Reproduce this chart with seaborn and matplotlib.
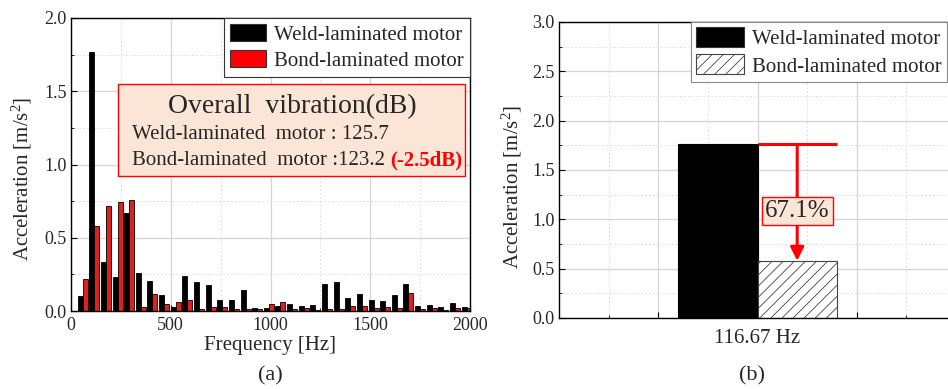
import numpy as np
import pandas as pd
import matplotlib
matplotlib.use("Agg")
import matplotlib.pyplot as plt
from matplotlib.patches import Patch, Rectangle
from matplotlib.ticker import MultipleLocator
import seaborn as sns

# ---------------- data ----------------
freqs = [58.33, 116.67, 175.0, 233.33, 291.67, 350.0, 408.33, 466.67, 525.0, 583.33,
         641.67, 700.0, 758.33, 816.67, 875.0, 933.33, 991.67, 1050.0, 1108.33, 1166.67,
         1225.0, 1283.33, 1341.67, 1400.0, 1458.33, 1516.67, 1575.0, 1633.33, 1691.67,
         1750.0, 1808.33, 1866.67, 1925.0, 1983.33]
weld = [0.105, 1.770, 0.337, 0.234, 0.667, 0.257, 0.204, 0.108, 0.030, 0.241,
        0.197, 0.179, 0.073, 0.078, 0.140, 0.023, 0.023, 0.032, 0.048, 0.034,
        0.041, 0.186, 0.197, 0.089, 0.117, 0.078, 0.069, 0.112, 0.181,
        0.032, 0.041, 0.028, 0.055, 0.025]
bond = [0.218, 0.578, 0.718, 0.745, 0.755, 0.028, 0.117, 0.048, 0.060, 0.076,
        0.016, 0.028, 0.030, 0.011, 0.016, 0.011, 0.048, 0.060, 0.014, 0.018,
        0.005, 0.014, 0.014, 0.032, 0.037, 0.023, 0.028, 0.023, 0.122,
        0.011, 0.021, 0.009, 0.021, 0.023]
series = ["Weld-laminated motor", "Bond-laminated motor"]

peak_label = "116.67 Hz"
peak_values = [1.76, 0.58]
reduction_text = "67.1%"
reduction_label_y = 1.08

overall_title = "Overall  vibration(dB)"
overall_line1 = "Weld-laminated  motor : 125.7"
overall_line2 = "Bond-laminated  motor :123.2"
overall_delta = "(-2.5dB)"

# ---------------- style ----------------
sns.set_style("ticks")
plt.rcParams["font.family"] = ["Liberation Serif", "DejaVu Serif"]
plt.rcParams["mathtext.fontset"] = "custom"
plt.rcParams["mathtext.rm"] = "Liberation Serif"
plt.rcParams["mathtext.default"] = "regular"
plt.rcParams["hatch.linewidth"] = 0.6
plt.rcParams["hatch.color"] = "#333333"

PEACH = "#FBE5D6"
fig = plt.figure(figsize=(9.48, 3.89), dpi=100)
W, H = 948, 389

def px_axes(l, t, r, b):
    return fig.add_axes([l / W, 1 - b / H, (r - l) / W, (b - t) / H])

def style_axes(ax):
    ax.set_axisbelow(True)
    ax.grid(which="major", color="#d4d4d4", lw=0.9, ls="-")
    ax.grid(which="minor", color="#e2e2e2", lw=0.7, ls=(0, (2, 2)))
    for s in ax.spines.values():
        s.set_color("black")
        s.set_linewidth(1.0)
    ax.tick_params(which="both", direction="in", labelsize=13, color="black")
    ax.tick_params(which="major", length=4)
    ax.tick_params(which="minor", length=2)

# ---------------- panel (a) ----------------
ax1 = px_axes(71, 18, 470, 311)
df = pd.DataFrame({
    "freq": freqs * 2,
    "acc": weld + bond,
    "motor": [series[0]] * len(freqs) + [series[1]] * len(freqs),
})
sns.barplot(data=df, x="freq", y="acc", hue="motor", hue_order=series,
            native_scale=True, palette=["black", "#ff0000"], width=0.86,
            edgecolor="black", linewidth=0.6, ax=ax1, legend=False)
ax1.set_xlim(0, 2000)
ax1.set_ylim(0, 2.0)
ax1.xaxis.set_major_locator(MultipleLocator(500))
ax1.xaxis.set_minor_locator(MultipleLocator(250))
ax1.yaxis.set_major_locator(MultipleLocator(0.5))
ax1.yaxis.set_minor_locator(MultipleLocator(0.25))
ax1.yaxis.set_major_formatter(matplotlib.ticker.FormatStrFormatter("%.1f"))
style_axes(ax1)
ax1.tick_params(axis="x", pad=4)
ax1.tick_params(axis="y", pad=3)
ax1.set_xlabel("Frequency [Hz]", fontsize=15)
ax1.set_ylabel("Acceleration [m/s$^2$]", fontsize=15)
ax1.xaxis.set_label_coords(0.5, -0.118)
ax1.xaxis.label.set_verticalalignment("center")
ax1.yaxis.set_label_coords(-0.123, 0.45)
ax1.yaxis.label.set_verticalalignment("center")

h1 = [Patch(facecolor="black", edgecolor="#333333", lw=0.8),
      Patch(facecolor="#ff0000", edgecolor="#333333", lw=0.8)]
leg1 = ax1.legend(h1, series, loc="upper right", borderaxespad=0, fontsize=15,
                  frameon=True, fancybox=False, edgecolor="#333333",
                  handlelength=1.7, handleheight=0.85, handletextpad=0.4,
                  borderpad=0.3, labelspacing=0.25, framealpha=1)
leg1.get_frame().set_linewidth(0.8)

ax1.add_patch(Rectangle((0.118, 0.461), 0.869, 0.314, transform=ax1.transAxes,
                        facecolor=PEACH, edgecolor="#ff0000", lw=1.0, zorder=5))
ax1.text(0.554, 0.696, overall_title, transform=ax1.transAxes, fontsize=20,
         ha="center", va="center", zorder=6)
ax1.text(0.153, 0.601, overall_line1, transform=ax1.transAxes, fontsize=15,
         ha="left", va="center", zorder=6)
ax1.text(0.153, 0.512, overall_line2, transform=ax1.transAxes, fontsize=15,
         ha="left", va="center", zorder=6)
ax1.text(0.80, 0.512, overall_delta, transform=ax1.transAxes, fontsize=15,
         ha="left", va="center", color="#ff0000", fontweight="bold", zorder=6)

# ---------------- panel (b) ----------------
ax2 = px_axes(559, 22, 956, 318)
df2 = pd.DataFrame({"freq": [peak_label] * 2, "acc": peak_values, "motor": series})
sns.barplot(data=df2, x="freq", y="acc", hue="motor", hue_order=series,
            palette=["black", "white"], width=0.8, ax=ax2, legend=False,
            edgecolor="black", linewidth=0.8)
bars = [p for p in ax2.patches]
bars[0].set_facecolor("black"); bars[0].set_edgecolor("black")
bars[1].set_facecolor("white"); bars[1].set_edgecolor("#444444")
bars[1].set_hatch("///")
ax2.set_xlim(-1, 1)
ax2.set_ylim(0, 3.0)
ax2.set_xticks([-0.5, 0, 0.5])
ax2.set_xticklabels(["", peak_label, ""], fontsize=15)
ax2.set_xticks([-0.75, -0.25, 0.25, 0.75], minor=True)
ax2.yaxis.set_major_locator(MultipleLocator(0.5))
ax2.yaxis.set_minor_locator(MultipleLocator(0.25))
ax2.yaxis.set_major_formatter(matplotlib.ticker.FormatStrFormatter("%.1f"))
style_axes(ax2)
ax2.tick_params(axis="x", labelsize=15, pad=8)
ax2.tick_params(axis="y", pad=3)
ax2.spines["right"].set_visible(False)
ax2.set_xlabel("")
ax2.set_ylabel("Acceleration [m/s$^2$]", fontsize=15)
ax2.yaxis.set_label_coords(-0.118, 0.444)
ax2.yaxis.label.set_verticalalignment("center")

b0 = bars[0]; b1 = bars[1]
top = b0.get_height()
x_left = b1.get_x(); x_right = b1.get_x() + b1.get_width()
x_mid = b1.get_x() + b1.get_width() / 2
ax2.plot([x_left, x_right], [top, top], color="#ff0000", lw=2.2,
         solid_capstyle="butt", zorder=4)
ax2.annotate("", xy=(x_mid, b1.get_height()), xytext=(x_mid, top),
             arrowprops=dict(arrowstyle="-|>", color="#ff0000", lw=2.2,
                             mutation_scale=20, shrinkA=0, shrinkB=0), zorder=4)
ax2.text(x_mid, reduction_label_y, reduction_text, fontsize=18,
         ha="center", va="center", zorder=6,
         bbox=dict(boxstyle="square,pad=0.12", facecolor=PEACH, edgecolor="#ff0000", lw=1.0))

h2 = [Patch(facecolor="black", edgecolor="#333333", lw=0.8),
      Patch(facecolor="white", edgecolor="#444444", lw=0.8, hatch="///")]
leg2 = fig.legend(h2, series, loc="upper right", bbox_to_anchor=(947 / W, 1 - 22 / H),
                  bbox_transform=fig.transFigure, borderaxespad=0, fontsize=15,
                  frameon=True, fancybox=False, edgecolor="#888888",
                  handlelength=2.3, handleheight=1.1, handletextpad=0.4,
                  borderpad=0.25, labelspacing=0.25, framealpha=1)
leg2.get_frame().set_linewidth(0.8)

fig.text(270 / W, 1 - 376 / H, "(a)", fontsize=16, ha="center", va="center")
fig.text(752 / W, 1 - 376 / H, "(b)", fontsize=16, ha="center", va="center")

fig.savefig("out.png", dpi=100)
